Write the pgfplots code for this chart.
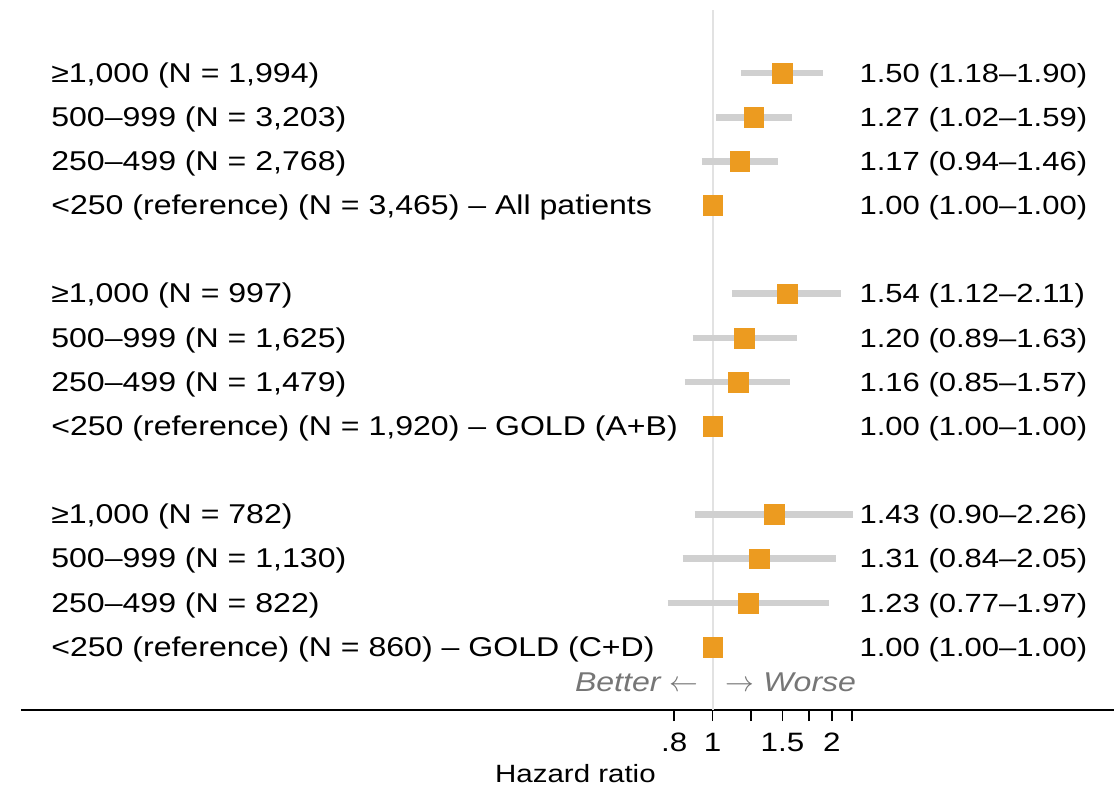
\documentclass[border=0pt]{standalone}
\usepackage{fontspec}
\setmainfont{Liberation Sans}[FakeStretch=1.18]
\usepackage{pgfplots}
\pgfplotsset{compat=1.18}
\definecolor{hrorange}{RGB}{236,155,32}
\definecolor{cigray}{RGB}{208,208,208}
\definecolor{refgray}{RGB}{226,226,226}
\definecolor{txtgray}{RGB}{118,118,118}
\newcommand{\leftfont}{\fontsize{13.6}{15}\selectfont}
\newcommand{\rightfont}{\fontsize{13.15}{15}\selectfont}
\begin{document}
\begin{tikzpicture}
\begin{axis}[
  scale only axis, width=547pt, height=350.35pt,
  xmode=log, xmin=0.017987, xmax=10.292, ymin=78.3, ymax=779,
  axis x line=bottom, axis y line=none,
  x axis line style={-, line width=1pt},
  xtick={0.8,1,1.25,1.5,1.75,2,2.25},
  xticklabels={.8,1,,1.5,,2,},
  minor xtick={},
  tick align=outside, major tick length=5.5pt,
  x tick style={black, line width=0.8pt},
  xticklabel style={font=\fontsize{13.3}{15}\selectfont, anchor=base, inner sep=0pt, yshift=-15pt},
  /pgf/number format/assume math mode=true,
  clip=false,
]
% bounding box
\path (axis cs:0.01593,0) rectangle (axis cs:10.292,789);
% reference line at HR = 1
\addplot[refgray, line width=1pt, forget plot] coordinates {(1,78.3) (1,779)};
% confidence intervals
\addplot[cigray, line width=3.4pt, forget plot] coordinates {(1.18,716) (1.90,716)};
\addplot[cigray, line width=3.4pt, forget plot] coordinates {(1.02,671.8) (1.59,671.8)};
\addplot[cigray, line width=3.4pt, forget plot] coordinates {(0.94,627.6) (1.46,627.6)};
\addplot[cigray, line width=3.4pt, forget plot] coordinates {(1.12,495) (2.11,495)};
\addplot[cigray, line width=3.4pt, forget plot] coordinates {(0.89,450.8) (1.63,450.8)};
\addplot[cigray, line width=3.4pt, forget plot] coordinates {(0.85,406.6) (1.57,406.6)};
\addplot[cigray, line width=3.4pt, forget plot] coordinates {(0.90,274) (2.26,274)};
\addplot[cigray, line width=3.4pt, forget plot] coordinates {(0.84,229.8) (2.05,229.8)};
\addplot[cigray, line width=3.4pt, forget plot] coordinates {(0.77,185.6) (1.97,185.6)};
% point estimates
\addplot[only marks, color=hrorange, mark=square*, mark size=4.95pt, mark options={draw=hrorange, fill=hrorange, line width=0.2pt}] coordinates {
  (1.50,716) (1.27,671.8) (1.17,627.6) (1.00,583.4)
  (1.54,495) (1.20,450.8) (1.16,406.6) (1.00,362.4)
  (1.43,274) (1.31,229.8) (1.23,185.6) (1.00,141.4)
};
% left labels
\begin{scope}[every node/.style={anchor=base west, inner sep=0pt, font=\leftfont}]
\node at (axis cs:0.02141,706.8) {≥1,000 (N = 1,994)};
\node at (axis cs:0.02141,662.6) {500–999 (N = 3,203)};
\node at (axis cs:0.02141,618.4) {250–499 (N = 2,768)};
\node at (axis cs:0.02141,574.2) {<250 (reference) (N = 3,465) – All patients};
\node at (axis cs:0.02141,485.8) {≥1,000 (N = 997)};
\node at (axis cs:0.02141,441.6) {500–999 (N = 1,625)};
\node at (axis cs:0.02141,397.4) {250–499 (N = 1,479)};
\node at (axis cs:0.02141,353.2) {<250 (reference) (N = 1,920) – GOLD (A+B)};
\node at (axis cs:0.02141,264.8) {≥1,000 (N = 782)};
\node at (axis cs:0.02141,220.6) {500–999 (N = 1,130)};
\node at (axis cs:0.02141,176.4) {250–499 (N = 822)};
\node at (axis cs:0.02141,132.2) {<250 (reference) (N = 860) – GOLD (C+D)};
\end{scope}
% right labels
\begin{scope}[every node/.style={anchor=base west, inner sep=0pt, font=\rightfont}]
\node at (axis cs:2.343,706.8) {1.50 (1.18–1.90)};
\node at (axis cs:2.343,662.6) {1.27 (1.02–1.59)};
\node at (axis cs:2.343,618.4) {1.17 (0.94–1.46)};
\node at (axis cs:2.343,574.2) {1.00 (1.00–1.00)};
\node at (axis cs:2.343,485.8) {1.54 (1.12–2.11)};
\node at (axis cs:2.343,441.6) {1.20 (0.89–1.63)};
\node at (axis cs:2.343,397.4) {1.16 (0.85–1.57)};
\node at (axis cs:2.343,353.2) {1.00 (1.00–1.00)};
\node at (axis cs:2.343,264.8) {1.43 (0.90–2.26)};
\node at (axis cs:2.343,220.6) {1.31 (0.84–2.05)};
\node at (axis cs:2.343,176.4) {1.23 (0.77–1.97)};
\node at (axis cs:2.343,132.2) {1.00 (1.00–1.00)};
\end{scope}
% direction labels
\node[anchor=base east, inner sep=0pt, font=\fontsize{13.6}{15}\selectfont\itshape, text=txtgray] at (axis cs:0.922,97) {Better $\leftarrow$};
\node[anchor=base west, inner sep=0pt, font=\fontsize{13.6}{15}\selectfont\itshape, text=txtgray] at (axis cs:1.0765,97) {$\rightarrow$ Worse};
% axis title
\node[anchor=base, inner sep=0pt, font=\fontsize{12.5}{14}\selectfont] at (axis cs:0.4507,6) {Hazard ratio};
\end{axis}
\end{tikzpicture}
\end{document}
